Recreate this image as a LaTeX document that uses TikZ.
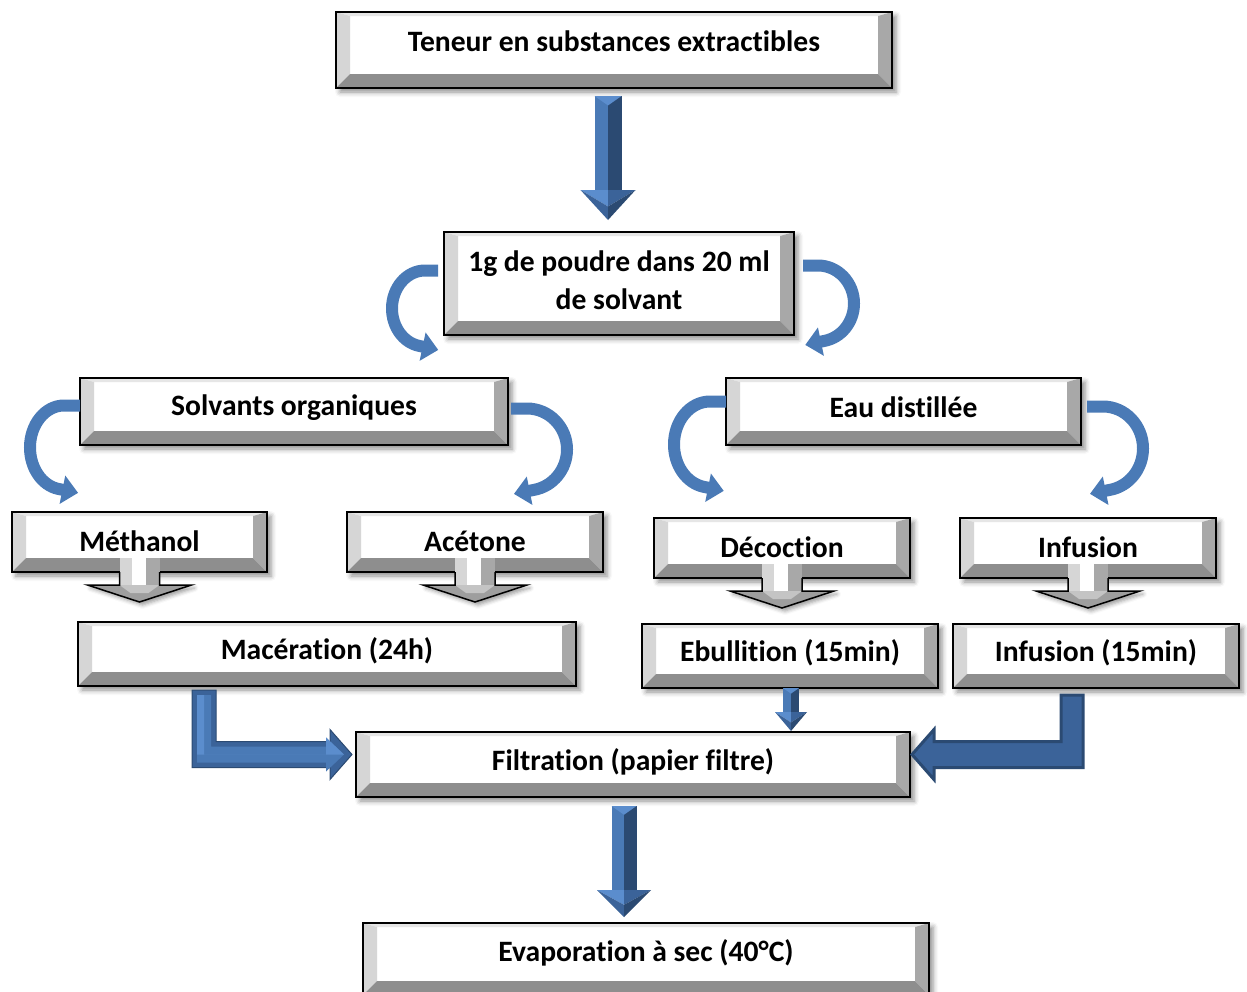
\documentclass[tikz,border=0pt]{standalone}
\usepackage{fontspec}
\setmainfont{Carlito}[Ligatures={NoCommon,NoContextual}]
\usetikzlibrary{calc,arrows.meta,shadows.blur}

\definecolor{bvtop}{HTML}{E6E6E6}
\definecolor{bvleft}{HTML}{D6D6D6}
\definecolor{bvright}{HTML}{A8A8A8}
\definecolor{bvbot}{HTML}{8E8E8E}
\definecolor{headgray}{HTML}{9E9E9E}
\definecolor{headlight}{HTML}{C4C4C4}
\definecolor{blA}{HTML}{5B8DCD}
\definecolor{blB}{HTML}{4A7AB6}
\definecolor{blC}{HTML}{3B6399}
\definecolor{blD}{HTML}{2B4A72}

\tikzset{
  boxface/.style={fill=white, inner sep=0pt, outer sep=0pt,
    blur shadow={shadow xshift=4pt, shadow yshift=-4pt, shadow blur radius=5pt, shadow opacity=45}},
  boxline/.style={draw=black, line width=2pt},
  boxtext/.style={font=\fontsize{29.6}{38}\selectfont\bfseries, align=center, inner sep=0pt},
  curv/.style={draw=blB, line width=12pt, -{Triangle[width=28pt,length=16pt]}},
  headshadow/.style={blur shadow={shadow xshift=3pt, shadow yshift=-3pt, shadow blur radius=4pt, shadow opacity=40}},
}

% bevelled box: [text offset] name, x1, y1, x2, y2, text
\newcommand\bevbox[7][-3]{%
  \node[boxface, minimum width={#5-#3}, minimum height={#6-#4}] (#2) at ({(#3+#5)/2},{(#4+#6)/2}) {};
  \fill[bvtop] (#3,#4) -- (#5,#4) -- ({#5-14},{#4+4}) -- ({#3+14},{#4+4}) -- cycle;
  \fill[bvleft] (#3,#4) -- ({#3+14},{#4+4}) -- ({#3+14},{#6-14}) -- (#3,#6) -- cycle;
  \fill[bvright] (#5,#4) -- ({#5-14},{#4+4}) -- ({#5-14},{#6-14}) -- (#5,#6) -- cycle;
  \fill[bvbot] (#3,#6) -- ({#3+14},{#6-14}) -- ({#5-14},{#6-14}) -- (#5,#6) -- cycle;
  \draw[boxline] (#2.north west) rectangle (#2.south east);
  \node[boxtext] (#2-t) at ($(#2.center)+(0,#1)$) {#7};
}

% grey arrow hanging under a box
\newcommand\callarrow[1]{%
  \coordinate (#1-c) at (#1.south);
  \fill[headgray, headshadow] ($(#1-c)+(-20,13)$) -- ($(#1-c)+(-52,13)$) -- ($(#1-c)+(0,30)$) -- ($(#1-c)+(52,13)$) -- ($(#1-c)+(20,13)$) -- cycle;
  \fill[headlight] ($(#1-c)+(-20,13)$) -- ($(#1-c)+(20,13)$) -- ($(#1-c)+(9,21)$) -- ($(#1-c)+(-9,21)$) -- cycle;
  \fill[bvleft] ($(#1-c)+(-20,-14)$) rectangle ($(#1-c)+(-8,13)$);
  \fill[white] ($(#1-c)+(-8,-14)$) rectangle ($(#1-c)+(6,13)$);
  \fill[bvright] ($(#1-c)+(6,-14)$) rectangle ($(#1-c)+(20,13)$);
  \draw[black, line width=1.5pt, line join=miter] ($(#1-c)+(-20,0)$) -- ($(#1-c)+(-20,13)$) -- ($(#1-c)+(-52,13)$) -- ($(#1-c)+(0,30)$) -- ($(#1-c)+(52,13)$) -- ($(#1-c)+(20,13)$) -- ($(#1-c)+(20,0)$);
}

% blue block arrow pointing down: start, tip, shaft half width, head half width, head length
\newcommand\bluedown[5]{%
  \fill[blB] ($(#1)+(-#3,0)$) rectangle ($(#2)+(0,-#5)$);
  \fill[blD] (#1) rectangle ($(#2)+(#3,-#5)$);
  \fill[blA] ($(#1)+(-#3,0)$) -- ($(#1)+(#3,0)$) -- ($(#1)+(0,{0.7*#3})$) -- cycle;
  \coordinate (#2-m) at ($(#2)+(0,{-0.45*#5})$);
  \fill[blA] ($(#2)+(-#4,-#5)$) -- ($(#2)+(0,-#5)$) -- (#2-m) -- cycle;
  \fill[blC] ($(#2)+(#4,-#5)$) -- ($(#2)+(0,-#5)$) -- (#2-m) -- cycle;
  \fill[blC] ($(#2)+(-#4,-#5)$) -- (#2-m) -- (#2) -- cycle;
  \fill[blD] ($(#2)+(#4,-#5)$) -- (#2-m) -- (#2) -- cycle;
}

\begin{document}
\begin{tikzpicture}[x=1pt, y=-1pt]
\useasboundingbox (0,0) rectangle (1247,991);
\clip (0,0) rectangle (1247,991);

% boxes
\bevbox[-9]{top}{336}{12}{892}{88}{Teneur en substances extractibles}
\bevbox[-3]{poud}{444}{232}{794}{335}{1g de poudre dans 20 ml\\de solvant}
\bevbox[-4]{sol}{80}{378}{508}{445}{Solvants organiques}
\bevbox[-4]{eau}{726}{378}{1081}{445}{Eau distillée}
\bevbox[-1]{meth}{12}{512}{267}{572}{Méthanol}
\bevbox[-1]{acet}{347}{512}{603}{572}{Acétone}
\bevbox[-1]{deco}{654}{518}{910}{578}{Décoction}
\bevbox[-1]{infu}{960}{518}{1216}{578}{Infusion}
\bevbox{mac}{78}{622}{576}{686}{Macération (24h)}
\bevbox{ebu}{642}{624}{938}{688}{Ebullition (15min)}
\bevbox{inf2}{953}{624}{1239}{688}{Infusion (15min)}
\bevbox{fil}{356}{732}{910}{797}{Filtration (papier filtre)}
\bevbox[-6]{evap}{363}{923}{929}{995}{Evaporation à sec (40°C)}

% grey arrows under the method boxes
\callarrow{meth}
\callarrow{acet}
\callarrow{deco}
\callarrow{infu}

% straight blue arrows
\coordinate (a1s) at ($(top.south)+(-6,8)$);
\coordinate (a1t) at ($(a1s |- poud.north)+(0,-12)$);
\bluedown{a1s}{a1t}{13.5}{27.5}{30}

\coordinate (a2s) at ($(fil.south)+(-9,9)$);
\coordinate (a2t) at ($(a2s |- evap.north)+(0,-6)$);
\bluedown{a2s}{a2t}{12.5}{27}{27}

\coordinate (a3s) at ($(ebu.south)+(1,0)$);
\coordinate (a3t) at ($(a3s |- fil.north)+(0,-1)$);
\bluedown{a3s}{a3t}{8}{16}{19}

% elbow arrow from the maceration box
\coordinate (e1s) at ($(mac.south west)+(126,4)$);
\coordinate (e1t) at ($(fil.west)+(-4,-10)$);
\filldraw[fill=blC, draw=blD, line width=1pt] ($(e1s)+(-12,0)$) -- ($(e1s)+(12,0)$) -- ($(e1s|-e1t)+(12,-13)$) -- ($(e1t)+(-22,-13)$) -- ($(e1t)+(-22,-25)$) -- (e1t) -- ($(e1t)+(-22,25)$) -- ($(e1t)+(-22,13)$) -- ($(e1s|-e1t)+(-12,13)$) -- cycle;
\fill[blB] ($(e1s)+(-7,5)$) -- ($(e1s)+(7,5)$) -- ($(e1s|-e1t)+(7,-8)$) -- ($(e1t)+(-26,-8)$) -- ($(e1t)+(-26,-17)$) -- ($(e1t)+(-8,0)$) -- ($(e1t)+(-26,17)$) -- ($(e1t)+(-26,8)$) -- ($(e1s|-e1t)+(-7,8)$) -- cycle;
\fill[blA] ($(e1s)+(-7,5)$) -- ($(e1s)+(0,5)$) -- ($(e1s|-e1t)+(0,0)$) -- ($(e1t)+(-26,0)$) -- ($(e1t)+(-26,-17)$) -- ($(e1t)+(-8,0)$) -- ($(e1t)+(-26,0)$) -- ($(e1s|-e1t)+(-7,0)$) -- cycle;

% elbow arrow from the infusion box
\coordinate (e2s) at ($(inf2.south west)+(119,7)$);
\coordinate (e2t) at ($(fil.east)+(2,-10)$);
\filldraw[fill=blC, draw=blD, line width=3pt, line join=miter] ($(e2s)+(-11,0)$) -- ($(e2s)+(11,0)$) -- ($(e2s|-e2t)+(11,13)$) -- ($(e2t)+(22,13)$) -- ($(e2t)+(22,25)$) -- (e2t) -- ($(e2t)+(22,-25)$) -- ($(e2t)+(22,-13)$) -- ($(e2s|-e2t)+(-11,-13)$) -- cycle;

% curved arrows
\draw[curv] ($(poud.west)+(-6,-13)$) -- ++(-13,0) arc[start angle=270, end angle=100, x radius=33, y radius=38] -- ++(19,4);
\draw[curv] ($(poud.east)+(9,-18)$) -- ++(15,0) arc[start angle=-90, end angle=80, x radius=36, y radius=38] -- ++(-19,4);
\draw[curv] ($(sol.west)+(0,-6)$) -- ++(-16,0) arc[start angle=270, end angle=100, x radius=34, y radius=42] -- ++(20,4);
\draw[curv] ($(sol.east)+(3,-3)$) -- ++(16,0) arc[start angle=-90, end angle=80, x radius=40, y radius=41] -- ++(-20,4);
\draw[curv] ($(eau.west)+(0,-10)$) -- ++(-16,0) arc[start angle=270, end angle=100, x radius=36, y radius=43] -- ++(20,4);
\draw[curv] ($(eau.east)+(6,-5)$) -- ++(16,0) arc[start angle=-90, end angle=80, x radius=40, y radius=42] -- ++(-20,4);
\end{tikzpicture}
\end{document}
